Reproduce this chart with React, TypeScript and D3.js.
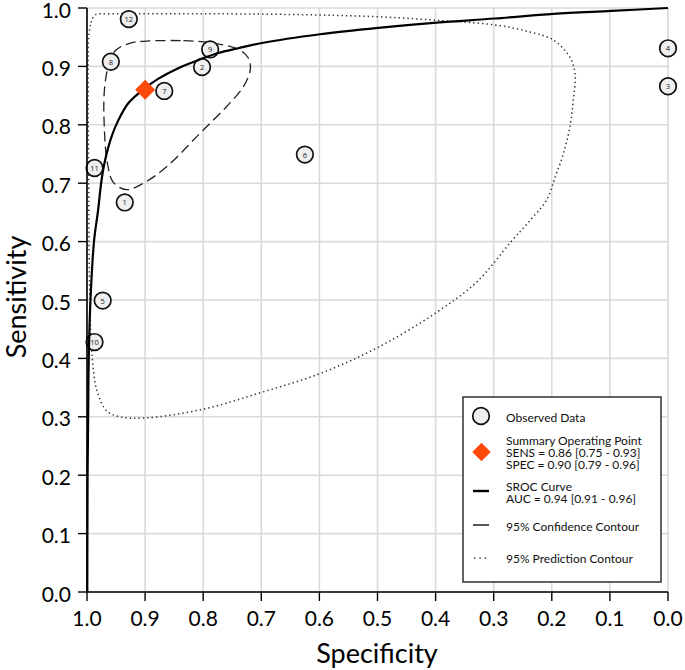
import React from "react";
import * as d3 from "d3";

// ---- data ----
const ticks = [0, 0.1, 0.2, 0.3, 0.4, 0.5, 0.6, 0.7, 0.8, 0.9, 1.0];

const studyIds = [1, 2, 3, 4, 5, 6, 7, 8, 9, 10, 11, 12];
const studySpec = [0.935, 0.802, 0.0, 0.0, 0.973, 0.625, 0.867, 0.959, 0.788, 0.987, 0.987, 0.928];
const studySens = [0.667, 0.899, 0.866, 0.931, 0.499, 0.749, 0.858, 0.908, 0.929, 0.428, 0.726, 0.981];

const summarySpec = 0.9;
const summarySens = 0.86;

const srocSpec = [0.9995, 0.9993, 0.999, 0.998, 0.997, 0.994, 0.988, 0.981, 0.975, 0.969, 0.958, 0.946, 0.929, 0.905, 0.877, 0.843, 0.808, 0.774, 0.74, 0.699, 0.599, 0.499, 0.398, 0.298, 0.197, 0.097, 0.0];
const srocSens = [0.0, 0.1, 0.2, 0.3, 0.4, 0.5, 0.6, 0.653, 0.705, 0.739, 0.779, 0.808, 0.837, 0.859, 0.879, 0.897, 0.911, 0.923, 0.931, 0.94, 0.955, 0.966, 0.975, 0.982, 0.99, 0.995, 1.0];

const confSpec = [0.903, 0.834, 0.783, 0.737, 0.722, 0.719, 0.731, 0.76, 0.806, 0.863, 0.903, 0.932, 0.955, 0.965, 0.97, 0.97, 0.962, 0.95, 0.925];
const confSens = [0.943, 0.944, 0.94, 0.928, 0.914, 0.894, 0.865, 0.831, 0.785, 0.728, 0.7, 0.689, 0.702, 0.735, 0.79, 0.86, 0.905, 0.928, 0.94];

const predSpec = [0.997, 0.993, 0.986, 0.96, 0.85, 0.754, 0.6, 0.499, 0.398, 0.298, 0.238, 0.197, 0.169, 0.16, 0.163, 0.169, 0.18, 0.194, 0.209, 0.235, 0.27, 0.329, 0.398, 0.499, 0.599, 0.699, 0.8, 0.9, 0.943, 0.966, 0.983, 0.99, 0.993, 0.996, 0.997, 0.998];
const predSens = [0.95, 0.975, 0.988, 0.99, 0.99, 0.99, 0.988, 0.985, 0.979, 0.971, 0.959, 0.945, 0.916, 0.888, 0.842, 0.796, 0.751, 0.711, 0.671, 0.639, 0.6, 0.531, 0.479, 0.419, 0.374, 0.342, 0.313, 0.298, 0.3, 0.31, 0.345, 0.391, 0.43, 0.55, 0.7, 0.85];

const legendLines = {
  observed: ["Observed Data"],
  summary: ["Summary Operating Point", "SENS = 0.86 [0.75 - 0.93]", "SPEC = 0.90 [0.79 - 0.96]"],
  sroc: ["SROC Curve", "AUC = 0.94 [0.91 - 0.96]"],
  conf: ["95% Confidence Contour"],
  pred: ["95% Prediction Contour"],
};

if (typeof document !== "undefined") document.body.style.margin = "0";

const W = 685;
const H = 670;
const FONT = "Lato, 'Open Sans', sans-serif";

export default function App() {
  const x = d3.scaleLinear().domain([1, 0]).range([87, 668]);
  const y = d3.scaleLinear().domain([0, 1]).range([592, 8]);

  const pts = (a: number[], b: number[]) => a.map((v, i) => [x(v), y(b[i])] as [number, number]);
  const open = d3.line().curve(d3.curveCatmullRom.alpha(0.5));
  const closed = d3.line().curve(d3.curveCatmullRomClosed.alpha(0.5));

  const srocPath = open(pts(srocSpec, srocSens)) || "";
  const confPath = closed(pts(confSpec, confSens)) || "";
  const predPath = closed(pts(predSpec, predSens)) || "";

  const grid = "#dadada";
  const lx = 463, ly = 397, lw = 198, lh = 185;
  const tx = 506;

  return (
    <svg width={W} height={H} style={{ display: "block", background: "#fff" }} fontFamily={FONT}>
      {/* grid */}
      {ticks.map((t) => (
        <line key={"gx" + t} x1={x(t)} x2={x(t)} y1={y(0)} y2={y(1)} stroke={grid} strokeWidth={1.6} />
      ))}
      {ticks.map((t) => (
        <line key={"gy" + t} x1={x(1)} x2={x(0)} y1={y(t)} y2={y(t)} stroke={grid} strokeWidth={1.6} />
      ))}

      {/* contours */}
      <path d={predPath} fill="none" stroke="#333" strokeWidth={1.5} strokeDasharray="1.4 3" />
      <path d={confPath} fill="none" stroke="#222" strokeWidth={1.3} strokeDasharray="10 5" />

      {/* study points */}
      {studyIds.map((id, i) => (
        <g key={id} transform={`translate(${x(studySpec[i])},${y(studySens[i])})`}>
          <circle r={8.3} fill="#efefef" stroke="#111" strokeWidth={1.7} />
          <text textAnchor="middle" dominantBaseline="central" fontSize={7.5} fill="#222" fontFamily="'Open Sans', sans-serif">
            {id}
          </text>
        </g>
      ))}

      <path d={srocPath} fill="none" stroke="#000" strokeWidth={2.2} />

      {/* summary point */}
      <path
        d={d3.symbol(d3.symbolSquare, 200)() || ""}
        transform={`translate(${x(summarySpec)},${y(summarySens)}) rotate(45)`}
        fill="#FF4A0A"
      />

      {/* axes */}
      <line x1={x(1)} x2={x(1)} y1={y(0)} y2={y(1)} stroke="#000" strokeWidth={1.6} />
      <line x1={x(1)} x2={x(0)} y1={y(0)} y2={y(0)} stroke="#000" strokeWidth={1.6} />
      {ticks.map((t) => (
        <g key={"ty" + t}>
          <line x1={x(1) - 9} x2={x(1)} y1={y(t)} y2={y(t)} stroke="#000" strokeWidth={1.4} />
          <text x={71} y={y(t) + 1} textAnchor="end" dominantBaseline="central" fontSize={21} fill="#000">
            {t.toFixed(1)}
          </text>
        </g>
      ))}
      {ticks.map((t) => (
        <g key={"tx" + t}>
          <line x1={x(t)} x2={x(t)} y1={y(0)} y2={y(0) + 9} stroke="#000" strokeWidth={1.4} />
          <text x={x(t)} y={617} textAnchor="middle" dominantBaseline="central" fontSize={21} fill="#000">
            {t.toFixed(1)}
          </text>
        </g>
      ))}
      <text x={377} y={652} textAnchor="middle" dominantBaseline="central" fontSize={27} fill="#000">
        Specificity
      </text>
      <text
        transform={`translate(15,297) rotate(-90)`}
        textAnchor="middle"
        dominantBaseline="central"
        fontSize={27}
        fill="#000"
      >
        Sensitivity
      </text>

      {/* legend */}
      <rect x={lx} y={ly} width={lw} height={lh} fill="#fff" stroke="#111" strokeWidth={1.3} />
      <circle cx={481} cy={416} r={8.3} fill="#efefef" stroke="#111" strokeWidth={1.7} />
      <path d={d3.symbol(d3.symbolSquare, 170)() || ""} transform={`translate(481.5,452) rotate(45)`} fill="#FF4A0A" />
      <line x1={473} x2={489} y1={491} y2={491} stroke="#000" strokeWidth={2.4} />
      <line x1={473} x2={489} y1={525} y2={525} stroke="#222" strokeWidth={1.5} />
      <line x1={474} x2={489} y1={558} y2={558} stroke="#333" strokeWidth={1.5} strokeDasharray="1.4 4" />
      <g fontSize={12} fill="#111">
        {legendLines.observed.map((s, i) => (
          <text key={s} x={tx} y={417 + i * 12.2} dominantBaseline="central">{s}</text>
        ))}
        {legendLines.summary.map((s, i) => (
          <text key={s} x={tx} y={440 + i * 12.2} dominantBaseline="central">{s}</text>
        ))}
        {legendLines.sroc.map((s, i) => (
          <text key={s} x={tx} y={486 + i * 12.5} dominantBaseline="central">{s}</text>
        ))}
        {legendLines.conf.map((s) => (
          <text key={s} x={tx} y={526} dominantBaseline="central">{s}</text>
        ))}
        {legendLines.pred.map((s) => (
          <text key={s} x={tx} y={558} dominantBaseline="central">{s}</text>
        ))}
      </g>
    </svg>
  );
}
